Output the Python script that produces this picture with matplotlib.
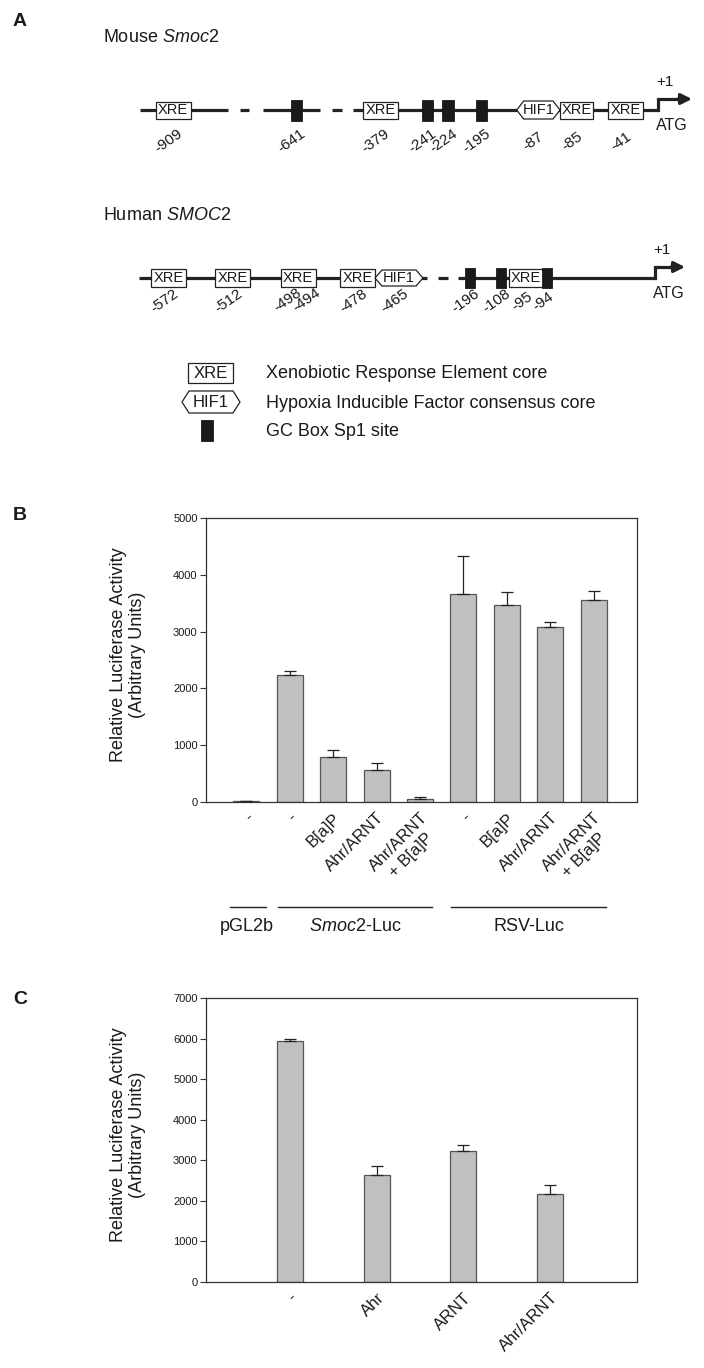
import matplotlib
matplotlib.use("Agg")
import matplotlib.pyplot as plt
import numpy as np
from matplotlib.patches import Rectangle, Polygon

plt.rcParams['font.family'] = ['Liberation Sans', 'DejaVu Sans']
plt.rcParams['mathtext.fontset'] = 'custom'
plt.rcParams['mathtext.it'] = 'Liberation Sans:italic'
plt.rcParams['mathtext.rm'] = 'Liberation Sans'

# ---------------- data ----------------
b_labels = ['-', '-', 'B[a]P', 'Ahr/ARNT', 'Ahr/ARNT\n+ B[a]P',
            '-', 'B[a]P', 'Ahr/ARNT', 'Ahr/ARNT\n+ B[a]P']
b_values = [15, 2230, 800, 560, 60, 3670, 3460, 3080, 3550]
b_errors = [8, 70, 110, 120, 30, 660, 245, 90, 160]
b_groups = ['pGL2b', r'$\mathit{Smoc2}$-Luc', 'RSV-Luc']
b_group_members = [[0], [1, 2, 3, 4], [5, 6, 7, 8]]

c_labels = ['-', 'Ahr', 'ARNT', 'Ahr/ARNT']
c_values = [5930, 2630, 3240, 2170]
c_errors = [70, 225, 145, 230]

mouse_sites = ['XRE', 'GC', 'XRE', 'GC', 'GC', 'GC', 'HIF1', 'XRE', 'XRE']
mouse_pos = ['-909', '-641', '-379', '-241', '-224', '-195', '-87', '-85', '-41']
human_sites = ['XRE', 'XRE', 'XRE', 'XRE', 'HIF1', 'GC', 'GC', 'XRE', 'GC']
human_pos = [['-572'], ['-512'], ['-498', '-494'], ['-478'], ['-465'],
             ['-196'], ['-108'], ['-95'], ['-94']]
legend_text = ['Xenobiotic Response Element core',
               'Hypoxia Inducible Factor consensus core',
               'GC Box Sp1 site']

# ---------------- figure ----------------
W, H = 704, 1368
fig = plt.figure(figsize=(W / 100, H / 100), dpi=100)
TXT = '#1a1a1a'

def fx(x):
    return x / W

def fy(y):
    return 1 - y / H

# overlay for the promoter diagram (pixel coordinates)
ad = fig.add_axes([0, 0, 1, 1])
ad.set_xlim(0, W)
ad.set_ylim(H, 0)
ad.axis('off')

LINE_LW = 2.3
LC = '#222222'
ROT = 35

def xre(x0, x1, yc, h=17, fs=10.5):
    ad.add_patch(Rectangle((x0, yc - h / 2), x1 - x0, h, facecolor='white',
                           edgecolor=LC, lw=0.9, zorder=3))
    ad.text((x0 + x1) / 2, yc + 0.5, 'XRE', ha='center', va='center',
            fontsize=fs, color=TXT, zorder=4)

def gc(x0, x1, yc, h=21):
    ad.add_patch(Rectangle((x0, yc - h / 2), x1 - x0, h, facecolor='#1a1a1a',
                           edgecolor='#1a1a1a', lw=0.6, zorder=3))

def hif(x0, x1, yc, h=18, fs=10.5):
    d = 7
    pts = [(x0, yc), (x0 + d, yc - h / 2), (x1 - d, yc - h / 2), (x1, yc),
           (x1 - d, yc + h / 2), (x0 + d, yc + h / 2)]
    ad.add_patch(Polygon(pts, closed=True, facecolor='white', edgecolor=LC,
                         lw=0.9, zorder=3))
    ad.text((x0 + x1) / 2, yc + 0.5, 'HIF1', ha='center', va='center',
            fontsize=fs, color=TXT, zorder=4)

def seg(x0, x1, y):
    ad.plot([x0, x1], [y, y], color=LC, lw=LINE_LW, solid_capstyle='butt', zorder=2)

def tss(x0, y, tip, rise=11):
    ad.plot([x0, x0, tip - 12], [y, y - rise, y - rise], color=LC, lw=LINE_LW,
            solid_joinstyle='miter', zorder=2)
    ad.annotate('', xy=(tip, y - rise), xytext=(tip - 14, y - rise),
                arrowprops=dict(arrowstyle='-|>', lw=LINE_LW, color=LC,
                                mutation_scale=16, shrinkA=0, shrinkB=0), zorder=2)
    ad.text(x0 - 2, y - rise - 17, '+1', fontsize=11, color=TXT, ha='left', va='center')
    ad.text(x0 + 14, y + 15, 'ATG', fontsize=11.5, color=TXT, ha='center', va='center')

def poslabel(x, y, s):
    ad.text(x, y, s, rotation=ROT, fontsize=11, color=TXT,
            ha='center', va='center')

# panel letters
for letter, yy in [('A', 21), ('B', 515), ('C', 1000)]:
    fig.text(fx(13), fy(yy), letter, fontsize=14, fontweight='bold', color=TXT,
             ha='left', va='center')

# ---- Mouse ----
fig.text(fx(103), fy(37), r'Mouse $\mathit{Smoc2}$', fontsize=13, color=TXT,
         ha='left', va='center')
ym = 110
seg(140, 228, ym)
seg(240, 249, ym)
seg(263, 320, ym)
seg(332, 342, ym)
seg(353, 658, ym)
mouse_x = [(155.7, 190.7), (290.7, 301.7), (363, 397.5), (421.7, 433.3),
           (442.3, 454), (475.7, 487.3), (516.7, 560), (560, 593.3), (608.3, 643.3)]
for kind, (a, b), lab in zip(mouse_sites, mouse_x, mouse_pos):
    if kind == 'XRE':
        xre(a, b, ym)
    elif kind == 'GC':
        gc(a, b, ym)
    else:
        hif(a, b, ym)
    poslabel((a + b) / 2 - 5, ym + 31, lab)
tss(658, ym, 692)

# ---- Human ----
fig.text(fx(103), fy(215), r'Human $\mathit{SMOC2}$', fontsize=13, color=TXT,
         ha='left', va='center')
yh = 278
seg(139, 427, yh)
seg(438, 448, yh)
seg(458, 655, yh)
human_x = [(151, 186), (215, 250), (280.7, 315.7), (340, 375), (375, 423),
           (465, 475), (495.7, 505.7), (509, 543.3), (541.7, 551.7)]
for kind, (a, b), labs in zip(human_sites, human_x, human_pos):
    if kind == 'XRE':
        xre(a, b, yh, h=18)
    elif kind == 'GC':
        gc(a, b, yh, h=20)
    else:
        hif(a, b, yh, h=16)
    cx = (a + b) / 2
    if len(labs) == 1:
        poslabel(cx - 4, yh + 23, labs[0])
    else:
        poslabel(cx - 11, yh + 22, labs[0])
        poslabel(cx + 8, yh + 22, labs[1])
tss(655, yh, 685)

# ---- Legend ----
xre(188, 233, 373, h=20, fs=12)
hif(182, 240, 402, h=22, fs=12)
gc(201, 213, 430, h=21)
for t, yy in zip(legend_text, [373, 403, 432]):
    ad.text(266, yy, t, fontsize=13, color=TXT, ha='left', va='center')

# ---------------- bar charts ----------------
BAR_C = '#c0c0c0'
EDGE = '#555555'
AXC = '#333333'

def style_axes(ax, ymax, step):
    ax.set_ylim(0, ymax)
    ax.set_yticks(np.arange(0, ymax + 1, step))
    ax.tick_params(axis='y', labelsize=8, length=4, width=0.8, color=AXC,
                   labelcolor=TXT, pad=2)
    ax.tick_params(axis='x', length=0, labelsize=12, labelcolor=TXT, pad=6)
    for s in ax.spines.values():
        s.set_color(AXC)
        s.set_linewidth(0.9)

ax_left, ax_right = 206, 637
b_top, b_bot = 518, 802
ax_b = fig.add_axes([fx(ax_left), fy(b_bot), (ax_right - ax_left) / W,
                     (b_bot - b_top) / H])
xb = np.arange(len(b_values))
ax_b.bar(xb, b_values, width=0.6, color=BAR_C, edgecolor=EDGE, linewidth=0.9,
         zorder=2)
ax_b.errorbar(xb, b_values, yerr=[np.zeros(len(b_errors)), b_errors], fmt='none',
              ecolor='#222222', elinewidth=0.9, capsize=4, capthick=0.9, zorder=3)
ax_b.set_xlim(-0.93, 9.0)
style_axes(ax_b, 5000, 1000)
ax_b.set_xticks(xb)
ax_b.set_xticklabels(b_labels, rotation=45, ha='right', rotation_mode='anchor',
                     multialignment='center')
for name, members in zip(b_groups, b_group_members):
    lo = members[0] - (0.38 if len(members) == 1 else 0.28)
    hi = members[-1] + (0.45 if len(members) == 1 else 0.28)
    ax_b.plot([lo, hi], [-0.37, -0.37], transform=ax_b.get_xaxis_transform(),
              color='#222222', lw=1.0, clip_on=False)
    ax_b.text((members[0] + members[-1]) / 2, -0.44, name, fontsize=13,
              color=TXT, ha='center', va='center',
              transform=ax_b.get_xaxis_transform())
fig.text(fx(128), fy(655), 'Relative Luciferase Activity\n(Arbitrary Units)',
         rotation=90, fontsize=13, color=TXT, ha='center', va='center',
         multialignment='center')

c_top, c_bot = 998, 1282
ax_c = fig.add_axes([fx(ax_left), fy(c_bot), (ax_right - ax_left) / W,
                     (c_bot - c_top) / H])
xc = np.arange(len(c_values)) * 2 + 1
ax_c.bar(xc, c_values, width=0.6, color=BAR_C, edgecolor=EDGE, linewidth=0.9,
         zorder=2)
ax_c.errorbar(xc, c_values, yerr=[np.zeros(len(c_errors)), c_errors], fmt='none',
              ecolor='#222222', elinewidth=0.9, capsize=4, capthick=0.9, zorder=3)
ax_c.set_xlim(-0.93, 9.0)
style_axes(ax_c, 7000, 1000)
ax_c.set_xticks(xc)
ax_c.set_xticklabels(c_labels, rotation=45, ha='right', rotation_mode='anchor')
fig.text(fx(128), fy(1135), 'Relative Luciferase Activity\n(Arbitrary Units)',
         rotation=90, fontsize=13, color=TXT, ha='center', va='center',
         multialignment='center')

fig.savefig('out.png', dpi=100)
